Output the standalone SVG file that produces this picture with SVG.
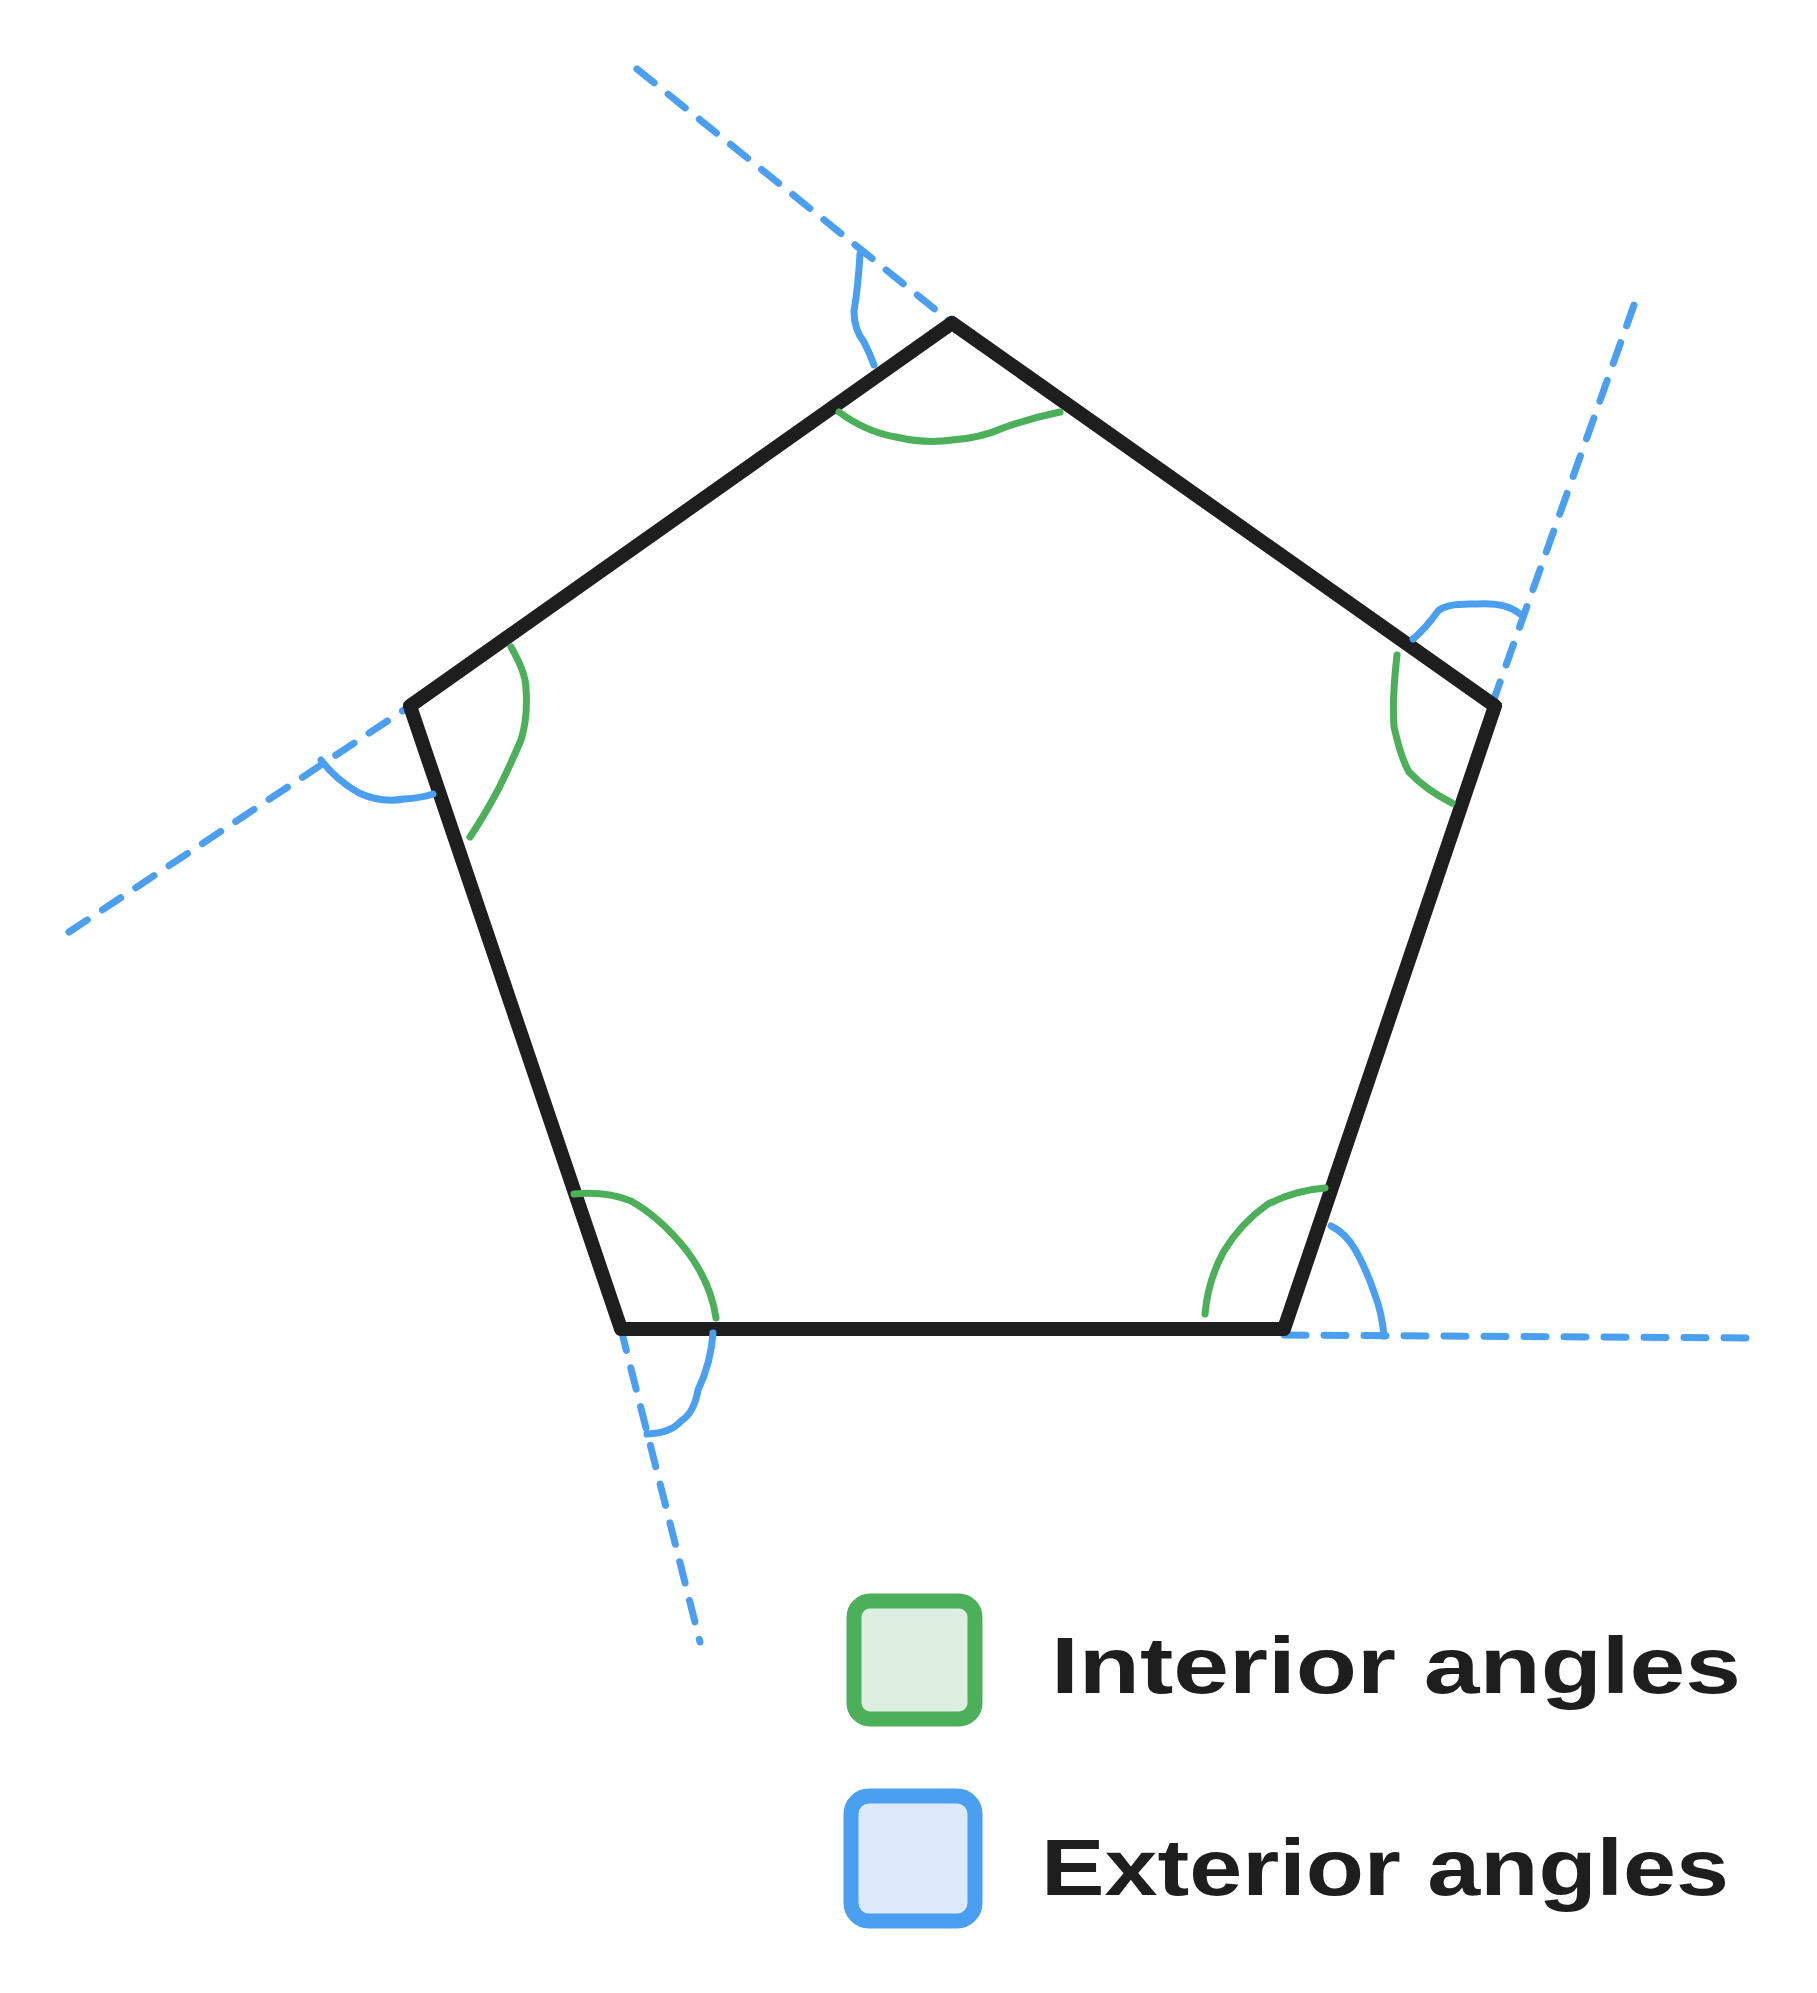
<svg xmlns="http://www.w3.org/2000/svg" width="1817" height="1993" viewBox="0 0 1817 1993">
<style>
.ext{fill:none;stroke:#4a9ff0;stroke-width:7;stroke-dasharray:22 18;stroke-linecap:round}
.g{fill:none;stroke:#4caf5a;stroke-width:7;stroke-linecap:round;stroke-linejoin:round}
.b{fill:none;stroke:#4a9ff0;stroke-width:7;stroke-linecap:round;stroke-linejoin:round}
.t{font-family:"Liberation Sans",sans-serif;font-weight:bold;font-size:80px;fill:#1e1e1e}
</style>
<rect width="1817" height="1993" fill="#fff"/>
<g transform="translate(6,8)">
<g id="connectors">
<line class="ext" x1="631" y1="61" x2="946" y2="315"/>
<line class="ext" x1="1628" y1="297" x2="1487" y2="694"/>
<line class="ext" x1="63" y1="924" x2="404" y2="698"/>
<line class="ext" x1="615" y1="1321" x2="694" y2="1634"/>
<line class="ext" x1="1278" y1="1327" x2="1744" y2="1330"/>
</g>
<g id="pentagon">
<polygon points="946,315 1489,698 1278,1321 615,1321 404,698" fill="none" stroke="#1e1e1e" stroke-width="14" stroke-linejoin="round"/>
</g>
<g id="interior-angles">
<path class="g" d="M833,404 Q860,424 890,429 Q920,436 946,432 Q975,430 997,420 Q1025,410 1054,404"/>
<path class="g" d="M1391,647 Q1386,690 1388,719 Q1395,750 1403,764 Q1420,782 1446,795"/>
<path class="g" d="M505,639 Q520,665 520,681 Q522,710 515,732 Q503,760 492,782 Q478,808 464,829"/>
<path class="g" d="M568,1186 Q600,1183 625,1193 Q655,1210 681,1243 Q705,1275 710,1310"/>
<path class="g" d="M1319,1180 Q1290,1182 1262,1196 Q1235,1215 1218,1243 Q1202,1272 1199,1306"/>
</g>
<g id="exterior-angles">
<path class="b" d="M854,246 Q852,280 848,303 Q848,322 858,334 Q864,346 868,357"/>
<path class="b" d="M1407,631 Q1420,620 1432,603 Q1440,595 1470,596 Q1500,594 1514,606"/>
<path class="b" d="M315,752 Q330,772 353,785 Q375,795 398,791 Q415,790 427,786"/>
<path class="b" d="M707,1325 Q705,1355 692,1382 Q688,1405 675,1413 Q665,1425 641,1426"/>
<path class="b" d="M1325,1218 Q1340,1225 1350,1243 Q1362,1265 1369,1287 Q1376,1305 1378,1328"/>
</g>
<g id="legend-interior">
<rect x="848" y="1593" width="121" height="118" rx="16" fill="#dcefe0" stroke="#4caf5a" stroke-width="15"/>
<text class="t" x="1045" y="1685" textLength="690" lengthAdjust="spacingAndGlyphs">Interior angles</text>
</g>
<g id="legend-exterior">
<rect x="845" y="1788" width="124" height="125" rx="18" fill="#dbe9f8" stroke="#4a9ff0" stroke-width="15"/>
<text class="t" x="1035" y="1887" textLength="688" lengthAdjust="spacingAndGlyphs">Exterior angles</text>
</g>
</g>
</svg>
